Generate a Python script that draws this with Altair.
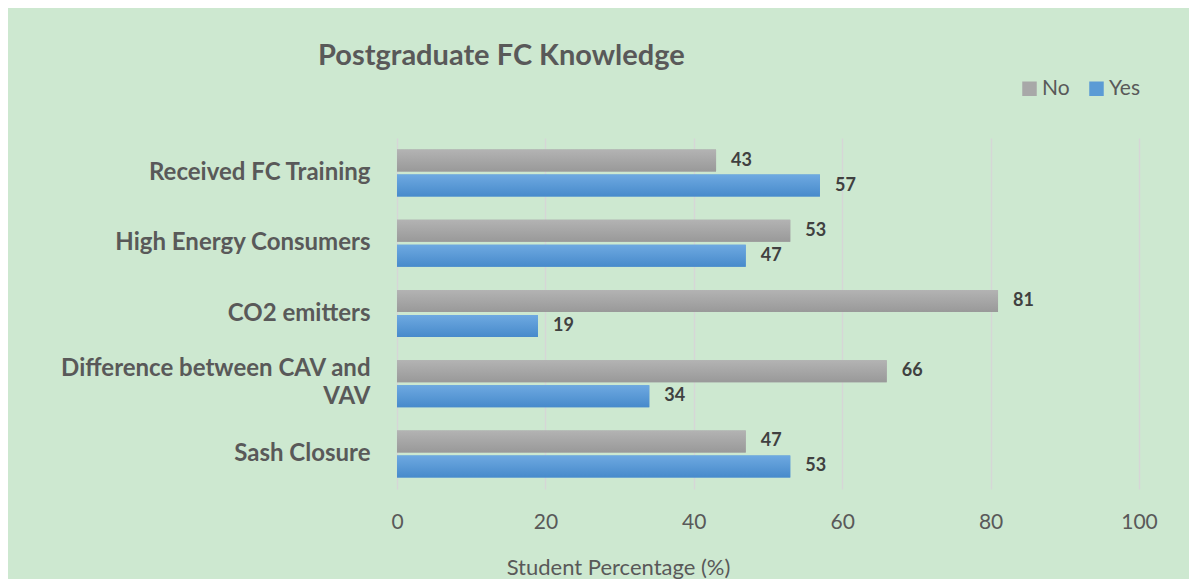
import altair as alt
import pandas as pd

categories = ["Received FC Training", "High Energy Consumers", "CO2 emitters",
              "Difference between CAV and VAV", "Sash Closure"]
no_values = [43, 53, 81, 66, 47]
yes_values = [57, 47, 19, 34, 53]
series = ["No", "Yes"]
colors = ["#a8a8a8", "#5b9bd5"]
x_ticks = [0, 20, 40, 60, 80, 100]

rows = []
for c, n, y in zip(categories, no_values, yes_values):
    rows.append({"cat": c, "series": "No", "value": n})
    rows.append({"cat": c, "series": "Yes", "value": y})
df = pd.DataFrame(rows)

FONT = "Lato"
GREY = "#595959"
LONG = "Difference between CAV and VAV"

y_enc = alt.Y("cat:N", sort=categories,
              scale=alt.Scale(paddingInner=0.33, paddingOuter=0.165),
              axis=alt.Axis(title=None, domain=False, ticks=False,
                            labelFont=FONT, labelFontSize=24, labelFontWeight="bold",
                            labelColor=GREY, labelPadding=27, labelLimit=400,
                            labelLineHeight=28,
                            labelOffset={"condition": {"test": f"datum.value == '{LONG}'", "value": -15}, "value": 0},
                            labelExpr=f"datum.value == '{LONG}' ? ['Difference between CAV and', 'VAV'] : datum.value"))
yoff = alt.YOffset("series:N", sort=series,
                   scale=alt.Scale(domain=series, paddingInner=0.12, paddingOuter=0))
x_enc = alt.X("value:Q", scale=alt.Scale(domain=[0, 100], nice=False),
              axis=alt.Axis(values=x_ticks, title="Student Percentage (%)",
                            domain=False, ticks=False, grid=True, labelFlush=False,
                            gridColor="#d6d6d6", gridWidth=1.5,
                            labelFont=FONT, labelFontSize=21, labelColor=GREY,
                            labelPadding=22, titleFont=FONT, titleFontSize=22,
                            titleFontWeight="normal", titleColor=GREY,
                            titlePadding=25, titleX=221, titleAlign="center"))

bars = alt.Chart(df).mark_bar().encode(
    x=x_enc, y=y_enc, yOffset=yoff,
    color=alt.Color("series:N", sort=series,
                    scale=alt.Scale(domain=series, range=colors),
                    legend=alt.Legend(title=None, orient="none", legendX=622, legendY=-60,
                                      direction="horizontal", symbolType="square",
                                      symbolSize=210, symbolStrokeWidth=0,
                                      labelFont=FONT, labelFontSize=21, labelColor=GREY,
                                      columnPadding=16, labelOffset=2, padding=0))
)


def grad(top, bottom):
    return alt.Gradient(gradient="linear", x1=0, y1=0, x2=0, y2=1,
                        stops=[alt.GradientStop(color=top, offset=0),
                               alt.GradientStop(color=bottom, offset=1)])


no_overlay = alt.Chart(df).transform_filter(alt.datum.series == "No").mark_bar(
    color=grad("#b3b3b3", "#999999")).encode(x="value:Q", y=alt.Y("cat:N", sort=categories), yOffset=yoff)
yes_overlay = alt.Chart(df).transform_filter(alt.datum.series == "Yes").mark_bar(
    color=grad("#6ea9e1", "#478acb")).encode(x="value:Q", y=alt.Y("cat:N", sort=categories), yOffset=yoff)

labels = alt.Chart(df).mark_text(align="left", baseline="middle", dx=15,
                                 font=FONT, fontSize=18, fontWeight="bold",
                                 color="#404040").encode(
    x="value:Q", y=alt.Y("cat:N", sort=categories), yOffset=yoff,
    text="value:Q"
)

chart = alt.layer(bars, no_overlay, yes_overlay, labels).properties(
    width=742, height=351,
    title=alt.TitleParams("Postgraduate FC Knowledge", anchor="start", frame="group",
                          dx=-79, offset=7, font=FONT, fontSize=29,
                          fontWeight="bold", color=GREY),
    autosize=alt.AutoSizeParams(type="none"),
    padding={"left": 389, "top": 130, "right": 50, "bottom": 90},
    background="#cde8d0",
).configure_view(stroke=None)

chart.save("out.html", embed_options={"renderer": "svg", "actions": False})
